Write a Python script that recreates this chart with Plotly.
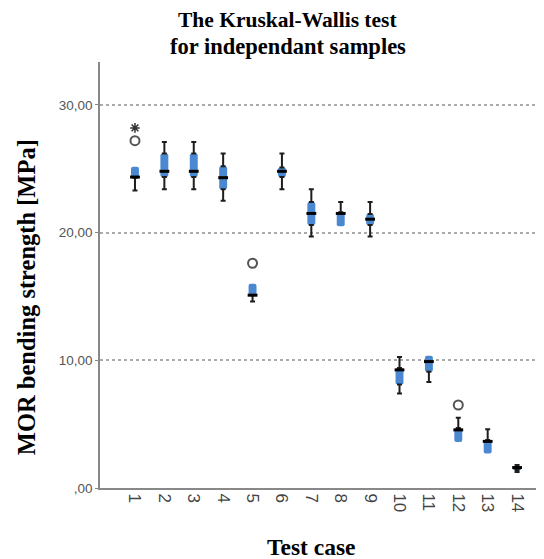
import plotly.graph_objects as go

# ---- data ----
cases = list(range(1, 15))
tick_labels = [str(c) for c in cases]
lower_whisker = [23.3, 23.4, 23.4, 22.5, 14.6, 23.4, 19.7, 20.5, 19.7, 7.4, 8.3, 3.6, 2.7, 1.25]
q1 = [24.3, 24.35, 24.35, 23.4, 15.1, 24.35, 20.6, 20.5, 20.6, 8.1, 9.1, 3.6, 2.7, 1.4]
median = [24.35, 24.8, 24.8, 24.3, 15.1, 24.8, 21.5, 21.5, 21.05, 9.25, 9.9, 4.55, 3.65, 1.6]
q3 = [25.15, 26.2, 26.2, 25.2, 16.0, 25.1, 22.4, 21.6, 21.45, 9.4, 10.35, 4.7, 3.75, 1.7]
upper_whisker = [25.15, 27.1, 27.1, 26.2, 16.0, 26.2, 23.4, 22.4, 22.4, 10.25, 10.35, 5.5, 4.6, 1.8]
outlier_cases = [1, 5, 12]
outlier_values = [27.2, 17.6, 6.5]
extreme_cases = [1]
extreme_values = [28.2]
y_tick_vals = [0, 10, 20, 30]
y_tick_text = [",00", "10,00", "20,00", "30,00"]

BLUE = "#4a88d2"
DARK = "#1e1e1e"
SERIF = "Times New Roman, Liberation Serif, serif"
SANS = "Arial, Liberation Sans, sans-serif"

fig = go.Figure()

# boxes (Q1..Q3)
fig.add_trace(go.Bar(
    x=cases, y=[b - a for a, b in zip(q1, q3)], base=q1, width=0.27,
    marker=dict(color=BLUE, line=dict(width=0), cornerradius=2),
    showlegend=False, hoverinfo="skip"))

# upper whiskers
up = [(c, t, h - t) for c, t, h in zip(cases, q3, upper_whisker) if h - t > 0.05]
fig.add_trace(go.Scatter(
    x=[u[0] for u in up], y=[u[1] for u in up], mode="markers",
    marker=dict(size=1, opacity=0),
    error_y=dict(type="data", symmetric=False, array=[u[2] for u in up],
                 arrayminus=[0] * len(up), color=DARK, thickness=2, width=2.5),
    showlegend=False, hoverinfo="skip"))

# lower whiskers
lo = [(c, b, b - l) for c, b, l in zip(cases, q1, lower_whisker) if b - l > 0.05]
fig.add_trace(go.Scatter(
    x=[u[0] for u in lo], y=[u[1] for u in lo], mode="markers",
    marker=dict(size=1, opacity=0),
    error_y=dict(type="data", symmetric=False, array=[0] * len(lo),
                 arrayminus=[u[2] for u in lo], color=DARK, thickness=2, width=2.5),
    showlegend=False, hoverinfo="skip"))

# medians
fig.add_trace(go.Scatter(
    x=cases, y=median, mode="markers",
    marker=dict(symbol="line-ew", size=7, color="black", line=dict(width=3, color="black")),
    showlegend=False, hoverinfo="skip"))

# outliers
fig.add_trace(go.Scatter(
    x=outlier_cases, y=outlier_values, mode="markers",
    marker=dict(symbol="circle-open", size=9, color="#555555", line=dict(width=2, color="#555555")),
    showlegend=False, hoverinfo="skip"))
fig.add_trace(go.Scatter(
    x=extreme_cases, y=extreme_values, mode="markers",
    marker=dict(symbol="asterisk-open", size=8, color="#333333", line=dict(width=1.5, color="#333333")),
    showlegend=False, hoverinfo="skip"))

# The page has an 8px body margin, so the figure is 8px smaller and offset
fig.update_layout(
    width=536, height=551,
    margin=dict(l=92, r=4, t=54, b=71),
    paper_bgcolor="white", plot_bgcolor="white",
    xaxis=dict(range=[-0.19, 14.78], tickmode="array", tickvals=cases, ticktext=tick_labels,
               tickangle=90, tickfont=dict(family=SANS, size=17, color="#444444"),
               showgrid=False, zeroline=False, showline=True, linecolor="#888888", linewidth=2,
               ticks="", fixedrange=True),
    yaxis=dict(range=[0, 33.36], tickmode="array", tickvals=y_tick_vals, ticktext=y_tick_text,
               tickfont=dict(family=SANS, size=13.5, color="#555555"),
               showgrid=True, gridcolor="#aaaaaa", griddash="dot", gridwidth=1.5,
               zeroline=False, showline=True, linecolor="#888888", linewidth=1.5,
               ticks="outside", ticklen=3, tickcolor="#888888"),
    annotations=[
        dict(text="<b>The Kruskal-Wallis test</b>", xref="paper", yref="paper",
             x=0.427, y=1, yshift=29, xanchor="center", yanchor="bottom", showarrow=False,
             borderpad=0, font=dict(family=SERIF, size=21.5, color="black")),
        dict(text="<b>for independant samples</b>", xref="paper", yref="paper",
             x=0.427, y=1, yshift=29, xanchor="center", yanchor="top", showarrow=False,
             borderpad=0, font=dict(family=SERIF, size=22.5, color="black")),
        dict(text="<b>Test case</b>", xref="paper", yref="paper", x=0.48, y=0,
             yshift=-59, xanchor="center", yanchor="middle", showarrow=False,
             font=dict(family=SERIF, size=23.5, color="black")),
        dict(text="<b>MOR bending strength [MPa]</b>", xref="paper", yref="paper",
             x=0, xshift=-74, y=0.448, xanchor="center", yanchor="middle",
             textangle=-90, showarrow=False,
             font=dict(family=SERIF, size=24.5, color="black")),
    ],
)

fig.write_html("out.html")
